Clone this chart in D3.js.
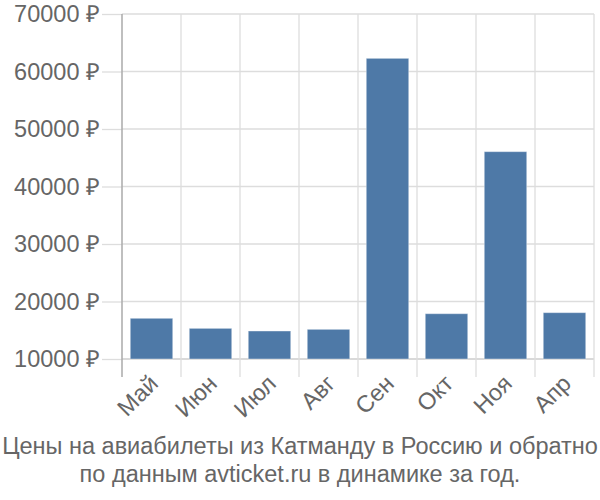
<!DOCTYPE html>
<html>
<head>
<meta charset="utf-8">
<script src="https://cdn.jsdelivr.net/npm/d3@7"></script>
<style>
  body { margin: 0; background: #fff; }
  svg text { font-family: "Liberation Sans", Arial, sans-serif; fill: #666; }
</style>
</head>
<body>
<div id="chart"></div>
<script>
"use strict";
// Цены по месяцам
let months = ["Май", "Июн", "Июл", "Авг", "Сен", "Окт", "Ноя", "Апр"];
let prices = [17080, 15330, 14870, 15160, 62290, 17880, 46060, 18060];
let yTicks = [10000, 20000, 30000, 40000, 50000, 60000, 70000];
let titleLines = ["Цены на авиабилеты из Катманду в Россию и обратно",
    "по данным avticket.ru в динамике за год."];

let width = 600, height = 500;
let margin = { top: 14, right: 6, bottom: 141, left: 122 };
let fontSize = "23.5px";

let svg = d3.select("#chart").append("svg")
    .attr("width", width)
    .attr("height", height);

let x = d3.scaleBand()
    .domain(months)
    .range([margin.left, width - margin.right])
    .paddingInner(0.28)
    .paddingOuter(0.14);

let y = d3.scaleLinear()
    .domain([10000, 70000])
    .range([height - margin.bottom, margin.top]);

// horizontal grid + tick labels
let yAxis = svg.append("g")
    .attr("transform", "translate(" + margin.left + ",0)")
    .call(d3.axisLeft(y).tickValues(yTicks)
        .tickSize(20).tickPadding(2)
        .tickFormat(d => d + " ₽"));
yAxis.select(".domain").remove();
yAxis.selectAll("line").attr("stroke", "#ddd").attr("stroke-width", 1.3);
yAxis.selectAll("text").style("font-size", fontSize).attr("fill", "#666");

svg.append("g").selectAll("line")
    .data(yTicks)
    .enter().append("line")
    .attr("x1", margin.left).attr("x2", width - margin.right)
    .attr("y1", d => y(d)).attr("y2", d => y(d))
    .attr("stroke", d => d === 10000 ? "#ccc" : "#ddd")
    .attr("stroke-width", 1.3);

// vertical grid at band boundaries
let step = x.step();
let bounds = months.map((m, i) => margin.left + i * step).concat([width - margin.right]);
svg.append("g").selectAll("line")
    .data(bounds)
    .enter().append("line")
    .attr("x1", d => d).attr("x2", d => d)
    .attr("y1", margin.top).attr("y2", height - margin.bottom + 18)
    .attr("stroke", (d, i) => i === 0 ? "#aaa" : "#ddd")
    .attr("stroke-width", (d, i) => i === 0 ? 1.5 : 1.3);

// bars
svg.append("g").selectAll("rect")
    .data(months)
    .enter().append("rect")
    .attr("x", d => x(d))
    .attr("y", (d, i) => y(prices[i]))
    .attr("width", x.bandwidth())
    .attr("height", (d, i) => y(10000) - y(prices[i]))
    .attr("fill", "#4e79a7")
    .attr("stroke", "#fff")
    .attr("stroke-opacity", 0.4)
    .attr("stroke-width", 1);

// x labels, rotated
svg.append("g").selectAll("text")
    .data(months)
    .enter().append("text")
    .attr("transform", d => "translate(" + (x(d) + x.bandwidth() / 2 + 8) + "," + (height - margin.bottom + 26) + ") rotate(-45)")
    .style("text-anchor", "end")
    .style("font-size", fontSize)
    .text(d => d);

// title
svg.append("g").selectAll("text")
    .data(titleLines)
    .enter().append("text")
    .attr("x", width / 2)
    .attr("y", (d, i) => 454 + i * 28)
    .style("text-anchor", "middle")
    .style("font-size", fontSize)
    .text(d => d);
</script>
</body>
</html>
